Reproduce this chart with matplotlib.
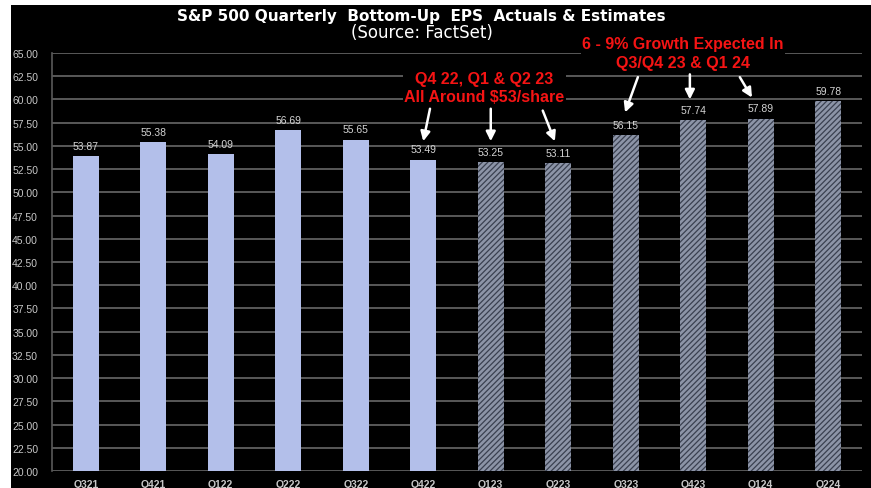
import matplotlib.pyplot as plt
from matplotlib.patches import Rectangle

plt.rcParams["font.family"] = ["Liberation Sans", "DejaVu Sans"]
plt.rcParams["hatch.linewidth"] = 0.9

# Quarterly bottom-up EPS, actuals then estimates
quarters = ['Q321', 'Q421', 'Q122', 'Q222', 'Q322', 'Q422',
            'Q123', 'Q223', 'Q323', 'Q423', 'Q124', 'Q224']
eps = [53.87, 55.38, 54.09, 56.69, 55.65, 53.49,
       53.25, 53.11, 56.15, 57.74, 57.89, 59.78]
n_actual = 6
y_ticks = [20.0 + 2.5 * i for i in range(19)]

fig = plt.figure(figsize=(8.71, 4.89), dpi=100, facecolor='white')
# black slide background
fig.patches.append(Rectangle((11 / 871, 0), 860 / 871, 483 / 489,
                             transform=fig.transFigure, facecolor='black',
                             edgecolor='none', zorder=-10))

ax = fig.add_axes([52 / 871, 1 - 472 / 489, 810 / 871, 418 / 489])
ax.set_facecolor('black')

x = list(range(len(quarters)))
for i, (q, v) in enumerate(zip(quarters, eps)):
    if i < n_actual:
        ax.bar(i, v - 20, bottom=20, width=0.39, color='#b3bfea', linewidth=0, zorder=3)
    else:
        ax.bar(i, v - 20, bottom=20, width=0.39, color='#8c94a7', edgecolor='#3a4050',
               hatch='//////', linewidth=0, zorder=3)
    ax.annotate(f'{v:.2f}', xy=(i, v), xytext=(0, 4), textcoords='offset points',
                ha='center', va='bottom', fontsize=7.5, color='#d4d4d4')

ax.set_xlim(-0.5, len(quarters) - 0.5)
ax.set_ylim(20, 65)
ax.set_yticks(y_ticks)
ax.set_yticklabels([f'{t:.2f}' for t in y_ticks])
ax.set_xticks(x)
ax.set_xticklabels(quarters)
ax.tick_params(axis='y', length=0, pad=10, labelsize=7.5, labelcolor='#c8c8c8')
ax.tick_params(axis='x', length=0, pad=6, labelsize=7.5, labelcolor='#c8c8c8')
for lbl in ax.get_xticklabels():
    lbl.set_fontweight('bold')

ax.grid(axis='y', color='#595959', linewidth=1.4, zorder=0)
for side in ['top', 'right', 'bottom']:
    ax.spines[side].set_visible(False)
ax.spines['left'].set_color('#595959')
ax.spines['left'].set_linewidth(1.2)

fig.text(421.5 / 871, 1 - 16 / 489, 'S&P 500 Quarterly  Bottom-Up  EPS  Actuals & Estimates',
         ha='center', va='center', fontsize=11, fontweight='bold', color='white',
         family='DejaVu Sans')
fig.text(422 / 871, 1 - 33 / 489, '(Source: FactSet)',
         ha='center', va='center', fontsize=12, color='white', family='DejaVu Sans')

# callouts, boxed in black so the gridlines stop at the text
box = dict(facecolor='black', edgecolor='none', pad=1)
ax.text(5.9, 61.3, 'Q4 22, Q1 & Q2 23\nAll Around $53/share', ha='center', va='center',
        fontsize=11.5, fontweight='bold', color='#f51414', linespacing=1.3, zorder=5,
        bbox=box)
ax.text(8.85, 65.0, '6 - 9% Growth Expected In\nQ3/Q4 23 & Q1 24', ha='center', va='center',
        fontsize=11.5, fontweight='bold', color='#f51414', linespacing=1.3, zorder=5,
        clip_on=False, bbox=box)

arrows = [
    ((5.0, 55.5), (5.1, 59.0)),
    ((6.0, 55.5), (6.0, 59.0)),
    ((6.95, 55.5), (6.77, 58.8)),
    ((7.99, 58.6), (8.18, 62.4)),
    ((8.95, 60.0), (8.95, 62.7)),
    ((9.87, 60.2), (9.69, 62.4)),
]
for tip, tail in arrows:
    ax.annotate('', xy=tip, xytext=tail,
                arrowprops=dict(arrowstyle='-|>', color='white', lw=1.8,
                                mutation_scale=14, shrinkA=0, shrinkB=0),
                annotation_clip=False, zorder=6)

plt.savefig('out.png', dpi=100, facecolor=fig.get_facecolor())
